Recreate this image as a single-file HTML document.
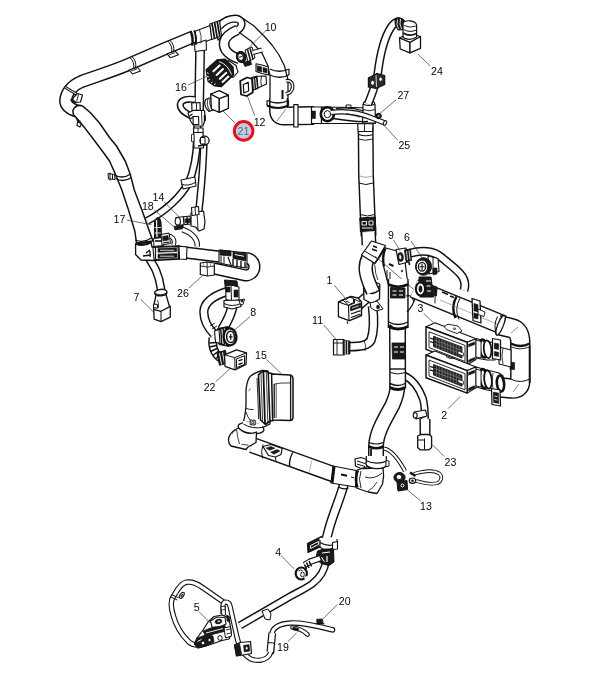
<!DOCTYPE html>
<html><head><meta charset="utf-8"><title>Harness</title>
<style>
html,body{margin:0;padding:0;background:#fff;}
body{width:610px;height:683px;overflow:hidden;font-family:"Liberation Sans",sans-serif;}
svg{display:block}
text{font-family:"Liberation Sans",sans-serif;font-size:10.3px;fill:#000;text-anchor:middle}
.ld{stroke:#333;stroke-width:0.7}
</style></head><body>
<svg width="610" height="683" viewBox="0 0 610 683">
<rect width="610" height="683" fill="#fff"/>
<path d="M194,36.5 L165,48.6 L127,65.1 C112,71.5 95,76.5 81.5,81.5 C72,85.5 66,93 65.7,101 C66,106 70,109 78,111.5" stroke="#111" stroke-width="13.25" fill="none" stroke-linecap="butt" stroke-linejoin="round"/>
<path d="M194,36.5 L165,48.6 L127,65.1 C112,71.5 95,76.5 81.5,81.5 C72,85.5 66,93 65.7,101 C66,106 70,109 78,111.5" stroke="#fff" stroke-width="10.35" fill="none" stroke-linecap="butt" stroke-linejoin="round"/>
<path d="M73.5,114.8 L78.7,120.5 L84.4,127.4 L94,140 L104.5,154 L109.5,161 L114,171 L121.5,189 L128,208.4 L134.8,231 L136.5,243 L153,241 L149.3,231 L143,212.9 L134.3,190 L130.3,174.4 L125.5,161.5 L116.5,146 L109.7,137.7 L99.3,122.8 L90.2,112.5 L82.7,106.1 Q76,103.5 72.8,110.5 Z" fill="#fff" stroke="#111" stroke-width="1.5" stroke-linejoin="round"/>
<path d="M130.0,57.5 q5,5 3.5,11.5" stroke="#111" stroke-width="1.0" fill="none" stroke-linecap="butt" stroke-linejoin="round"/>
<path d="M132.0,56.5 q5,5 3.5,11.5" stroke="#111" stroke-width="1.0" fill="none" stroke-linecap="butt" stroke-linejoin="round"/>
<path d="M129.0,70.0 137.5,67.5 140.5,71.0 132.5,74.0Z" fill="#fff" stroke="#111" stroke-width="1.1" stroke-linejoin="round"/>
<path d="M131.0,71.0 l6,-2" stroke="#111" stroke-width="0.8" fill="none" stroke-linecap="butt" stroke-linejoin="round"/>
<path d="M168.0,41.3 q5,5 3.5,11.5" stroke="#111" stroke-width="1.0" fill="none" stroke-linecap="butt" stroke-linejoin="round"/>
<path d="M170.0,40.3 q5,5 3.5,11.5" stroke="#111" stroke-width="1.0" fill="none" stroke-linecap="butt" stroke-linejoin="round"/>
<path d="M167.0,53.8 175.5,51.3 178.5,54.8 170.5,57.8Z" fill="#fff" stroke="#111" stroke-width="1.1" stroke-linejoin="round"/>
<path d="M169.0,54.8 l6,-2" stroke="#111" stroke-width="0.8" fill="none" stroke-linecap="butt" stroke-linejoin="round"/>
<path d="M65.5,87.5 L78,95" stroke="#111" stroke-width="3.0" fill="none" stroke-linecap="butt" stroke-linejoin="round"/>
<path d="M65.5,87.5 L78,95" stroke="#fff" stroke-width="1.0" fill="none" stroke-linecap="butt" stroke-linejoin="round"/>
<path d="M72.5,98.5 77.5,93.5 82.5,95 80.5,102 75,102.5Z" fill="#fff" stroke="#111" stroke-width="1.2" stroke-linejoin="round"/>
<path d="M78.5,94.5 l-2,7" stroke="#111" stroke-width="0.9" fill="none" stroke-linecap="butt" stroke-linejoin="round"/>
<path d="M70.5,99.5 l6,3.5" stroke="#111" stroke-width="2.0" fill="none" stroke-linecap="butt" stroke-linejoin="round"/>
<path d="M114.4,175 q8,4.5 16.5,-1" stroke="#111" stroke-width="1.3" fill="none" stroke-linecap="butt" stroke-linejoin="round"/>
<path d="M115.5,178.5 q8,4.5 16,-1" stroke="#111" stroke-width="1.3" fill="none" stroke-linecap="butt" stroke-linejoin="round"/>
<path d="M108,173.5 114.5,174.5 115,179.5 108.5,179Z" fill="#fff" stroke="#111" stroke-width="1.0" stroke-linejoin="round"/>
<path d="M110,172.5 v8 M112.5,174 v5" stroke="#111" stroke-width="1.0" fill="none" stroke-linecap="butt" stroke-linejoin="round"/>
<path d="M76,117.5 l2,4.5 l2.5,-1 M77.5,122 l-.5,3.5 l3,1.5 l1.5,-3.5 z" stroke="#111" stroke-width="1.1" fill="none" stroke-linecap="butt" stroke-linejoin="round"/>
<path d="M147,221 C165,211.5 181,197 189,182 C194,170 196.5,156 197,140 L198,112" stroke="#111" stroke-width="8.05" fill="none" stroke-linecap="butt" stroke-linejoin="round"/>
<path d="M147,221 C165,211.5 181,197 189,182 C194,170 196.5,156 197,140 L198,112" stroke="#fff" stroke-width="5.15" fill="none" stroke-linecap="butt" stroke-linejoin="round"/>
<path d="M204,138 C203.5,160 202,180 200,200 L198.5,214" stroke="#111" stroke-width="7.65" fill="none" stroke-linecap="butt" stroke-linejoin="round"/>
<path d="M204,138 C203.5,160 202,180 200,200 L198.5,214" stroke="#fff" stroke-width="4.75" fill="none" stroke-linecap="butt" stroke-linejoin="round"/>
<path d="M200.2,44 L199,112" stroke="#111" stroke-width="9.85" fill="none" stroke-linecap="butt" stroke-linejoin="round"/>
<path d="M200.2,44 L199,112" stroke="#fff" stroke-width="6.95" fill="none" stroke-linecap="butt" stroke-linejoin="round"/>
<path d="M195,99.6 C188,98.5 181,99.5 180.2,104.5 C179.8,110 186,113.5 192.5,116.5" stroke="#111" stroke-width="7.05" fill="none" stroke-linecap="butt" stroke-linejoin="round"/>
<path d="M195,99.6 C188,98.5 181,99.5 180.2,104.5 C179.8,110 186,113.5 192.5,116.5" stroke="#fff" stroke-width="4.15" fill="none" stroke-linecap="butt" stroke-linejoin="round"/>
<path d="M216,24.5 221,20 227,16.5 235,16 243,18.5 254,26 264,36 272,45 279,55 284.5,66 288,80 288,100 270,100 270,76 268,66 262,53 251,41 240,33 228,32 218,40Z" fill="#fff" stroke="#111" stroke-width="1.25" stroke-linejoin="round"/>
<path d="M219,26.5 C223,22 229,18.8 235,18.6 C240,18.8 242.6,22 241.2,26 C240,29 237.5,30.5 234.5,32" stroke="#111" stroke-width="8.05" fill="none" stroke-linecap="butt" stroke-linejoin="round"/>
<path d="M219,26.5 C223,22 229,18.8 235,18.6 C240,18.8 242.6,22 241.2,26 C240,29 237.5,30.5 234.5,32" stroke="#fff" stroke-width="5.15" fill="none" stroke-linecap="butt" stroke-linejoin="round"/>
<path d="M237.5,29.8 C231,32.5 225.5,36 224.2,42 C223.5,46 225,49.5 227.3,52 C230.5,55.5 235,57.5 239.5,59" stroke="#111" stroke-width="10.65" fill="none" stroke-linecap="butt" stroke-linejoin="round"/>
<path d="M237.5,29.8 C231,32.5 225.5,36 224.2,42 C223.5,46 225,49.5 227.3,52 C230.5,55.5 235,57.5 239.5,59" stroke="#fff" stroke-width="7.75" fill="none" stroke-linecap="butt" stroke-linejoin="round"/>
<path d="M195,31.2 210.4,25.5 212,39 196.5,45.6Z" fill="#fff" stroke="#111" stroke-width="1.2" stroke-linejoin="round"/>
<path d="M194.5,44 206,40 206.5,50 195,51.5Z" fill="#fff" stroke="#111" stroke-width="1.1" stroke-linejoin="round"/>
<path d="M190.6,31.6 q3,6 1.6,14" stroke="#111" stroke-width="2.4" fill="none" stroke-linecap="butt" stroke-linejoin="round"/>
<path d="M194,30.4 q3,6 1.6,14.4" stroke="#111" stroke-width="1.8" fill="none" stroke-linecap="butt" stroke-linejoin="round"/>
<path d="M199.5,30 q2.5,6 1.5,13.5" stroke="#111" stroke-width="0.8" fill="none" stroke-linecap="butt" stroke-linejoin="round"/>
<path d="M209.8,24 219.5,20.5 221.5,36 211.8,39.5Z" fill="#fff" stroke="#111" stroke-width="1.2" stroke-linejoin="round"/>
<path d="M212,23.5 l2.6,15 M214.6,22.5 l2.6,15 M217.2,21.5 l2.6,15" stroke="#111" stroke-width="1.7" fill="none" stroke-linecap="butt" stroke-linejoin="round"/>
<path d="M278.6,98 L278.6,111 Q278.6,116 284,116 L314,115.6" stroke="#111" stroke-width="19.05" fill="none" stroke-linecap="butt" stroke-linejoin="round"/>
<path d="M278.6,98 L278.6,111 Q278.6,116 284,116 L314,115.6" stroke="#fff" stroke-width="16.15" fill="none" stroke-linecap="butt" stroke-linejoin="round"/>
<path d="M286,81 C293,79 294.5,88 290,92.5 L286,94" stroke="#111" stroke-width="3.70" fill="none" stroke-linecap="butt" stroke-linejoin="round"/>
<path d="M286,81 C293,79 294.5,88 290,92.5 L286,94" stroke="#fff" stroke-width="1.50" fill="none" stroke-linecap="butt" stroke-linejoin="round"/>
<path d="M270,69 q9,4.5 19,0" stroke="#111" stroke-width="1.3" fill="none" stroke-linecap="butt" stroke-linejoin="round"/>
<path d="M270,75 q9,4.5 19,0" stroke="#111" stroke-width="1.3" fill="none" stroke-linecap="butt" stroke-linejoin="round"/>
<path d="M289,69 v6" stroke="#111" stroke-width="1.2" fill="none" stroke-linecap="butt" stroke-linejoin="round"/>
<path d="M267,100.5 q11,5 21.5,0" stroke="#111" stroke-width="1.3" fill="none" stroke-linecap="butt" stroke-linejoin="round"/>
<path d="M267,105.5 q11,5 21.5,0" stroke="#111" stroke-width="2.0" fill="none" stroke-linecap="butt" stroke-linejoin="round"/>
<path d="M267,100.5 v5 M288.5,100.5 v5" stroke="#111" stroke-width="1.2" fill="none" stroke-linecap="butt" stroke-linejoin="round"/>
<path d="M277,121 l9,-12" stroke="#555" stroke-width="0.7" fill="none" stroke-linecap="butt" stroke-linejoin="round"/>
<path d="M282.5,90 v9" stroke="#111" stroke-width="2.0" fill="none" stroke-linecap="butt" stroke-linejoin="round"/>
<path d="M293.8,104.7 298,104.7 298,127 293.8,127Z" fill="#fff" stroke="#111" stroke-width="1.2" stroke-linejoin="round"/>
<path d="M311.5,107 321.5,107 321.5,123.5 311.5,123.5Z" fill="#fff" stroke="#111" stroke-width="1.2" stroke-linejoin="round"/>
<path d="M312,111 315.5,111 315.5,118.5 312,118.5Z" fill="#1a1a1a" stroke="#111" stroke-width="0.5" stroke-linejoin="round"/>
<path d="M321.5,107 352,107.5 372,108 375,123.5 352,123.5 321.5,123.5Z" fill="#fff" stroke="#111" stroke-width="1.2" stroke-linejoin="round"/>
<path d="M363,104 L375,104 L375.5,123 L362.5,123 Z" fill="#fff" stroke="#111" stroke-width="1.2" stroke-linejoin="round"/>
<ellipse cx="369" cy="103.2" rx="5.6" ry="2.2" transform="rotate(0 369 103.2)" fill="#fff" stroke="#111" stroke-width="1.1"/>
<path d="M363,109.5 q6,2.5 12,0" stroke="#111" stroke-width="0.9" fill="none" stroke-linecap="butt" stroke-linejoin="round"/>
<ellipse cx="327.4" cy="114.2" rx="6.6" ry="7" transform="rotate(0 327.4 114.2)" fill="#fff" stroke="#111" stroke-width="2.6"/>
<ellipse cx="327.4" cy="114.2" rx="3.2" ry="3.6" transform="rotate(0 327.4 114.2)" fill="#fff" stroke="#111" stroke-width="1.0"/>
<path d="M331,112.5 C345,110.5 360,113 372,118 L385,123" stroke="#111" stroke-width="5.60" fill="none" stroke-linecap="butt" stroke-linejoin="round"/>
<path d="M331,112.5 C345,110.5 360,113 372,118 L385,123" stroke="#fff" stroke-width="3.20" fill="none" stroke-linecap="butt" stroke-linejoin="round"/>
<path d="M333,118.5 C345,120.5 358,122 368,121.5" stroke="#111" stroke-width="1.3" fill="none" stroke-linecap="butt" stroke-linejoin="round"/>
<path d="M336,108.5 C346,107 356,108.5 364,111" stroke="#111" stroke-width="1.1" fill="none" stroke-linecap="butt" stroke-linejoin="round"/>
<path d="M346,113.5 l14,3.5" stroke="#111" stroke-width="0.8" fill="none" stroke-linecap="butt" stroke-linejoin="round"/>
<ellipse cx="385" cy="123" rx="1.5" ry="2.3" transform="rotate(20 385 123)" fill="#fff" stroke="#111" stroke-width="1.0"/>
<ellipse cx="378.6" cy="116" rx="2.7" ry="2.7" transform="rotate(0 378.6 116)" fill="#1a1a1a" stroke="#111" stroke-width="1.0"/>
<ellipse cx="378.6" cy="116" rx="1" ry="1" transform="rotate(0 378.6 116)" fill="#fff" stroke="#111" stroke-width="0.4"/>
<path d="M346,107.5 v-2.5 h5 v2.5" stroke="#111" stroke-width="1.0" fill="none" stroke-linecap="butt" stroke-linejoin="round"/>
<path d="M365.6,124 L366,175 L367.6,215 L368.6,236" stroke="#111" stroke-width="15.95" fill="none" stroke-linecap="butt" stroke-linejoin="round"/>
<path d="M365.6,124 L366,175 L367.6,215 L368.6,236" stroke="#fff" stroke-width="13.05" fill="none" stroke-linecap="butt" stroke-linejoin="round"/>
<path d="M357.6,123.8 373,123.8 372.6,131.5 358.2,131.5Z" fill="#fff" stroke="#111" stroke-width="1.1" stroke-linejoin="round"/>
<path d="M364.5,124 v7.5" stroke="#111" stroke-width="0.9" fill="none" stroke-linecap="butt" stroke-linejoin="round"/>
<path d="M358.5,134.5 q7,2.5 14.4,0" stroke="#111" stroke-width="1.1" fill="none" stroke-linecap="butt" stroke-linejoin="round"/>
<path d="M358.5,139 q7,2.5 14.4,0" stroke="#111" stroke-width="0.9" fill="none" stroke-linecap="butt" stroke-linejoin="round"/>
<path d="M358.8,175.5 q7,3.5 14.4,0" stroke="#777" stroke-width="0.7" fill="none" stroke-linecap="butt" stroke-linejoin="round"/>
<path d="M358.8,183 q7,3 14.4,0" stroke="#111" stroke-width="1.0" fill="none" stroke-linecap="butt" stroke-linejoin="round"/>
<path d="M360.2,214.5 q7,3 14.6,0" stroke="#111" stroke-width="1.0" fill="none" stroke-linecap="butt" stroke-linejoin="round"/>
<path d="M359.8,218 375.2,217 375.8,230.5 360.4,231.5Z" fill="#1a1a1a" stroke="#111" stroke-width="1.0" stroke-linejoin="round"/>
<path d="M362,221.5 h4.5 v3.5 h-4.5 z M369,221 h4 v4 h-4 z" stroke="#fff" stroke-width="0.9" fill="none" stroke-linecap="butt" stroke-linejoin="round"/>
<path d="M362,228 h11" stroke="#fff" stroke-width="0.9" fill="none" stroke-linecap="butt" stroke-linejoin="round"/>
<path d="M368,104 C372,94 376.5,84 378,72 C380.5,52 385,36 391.5,26.5 C394,23 396.5,21.5 399,21.5" stroke="#111" stroke-width="8.65" fill="none" stroke-linecap="butt" stroke-linejoin="round"/>
<path d="M368,104 C372,94 376.5,84 378,72 C380.5,52 385,36 391.5,26.5 C394,23 396.5,21.5 399,21.5" stroke="#fff" stroke-width="5.75" fill="none" stroke-linecap="butt" stroke-linejoin="round"/>
<path d="M368.4,78 377,73.5 384.7,75.5 384.7,84.5 376,88.5 368.4,87Z" fill="#2a2a2a" stroke="#111" stroke-width="1.2" stroke-linejoin="round"/>
<ellipse cx="372.6" cy="82.8" rx="2.0" ry="2.5" transform="rotate(0 372.6 82.8)" fill="#fff" stroke="#111" stroke-width="0.9"/>
<ellipse cx="380.6" cy="79.2" rx="1.8" ry="2.2" transform="rotate(0 380.6 79.2)" fill="#fff" stroke="#111" stroke-width="0.9"/>
<path d="M376,75 l.5,12" stroke="#fff" stroke-width="0.8" fill="none" stroke-linecap="butt" stroke-linejoin="round"/>
<path d="M395,19 Q398,16.5 402,18.5 L405,21 L404,29.5 L398,30 Q394,25 395,19 Z" fill="#1a1a1a" stroke="#111" stroke-width="1" stroke-linejoin="round"/>
<path d="M397.5,19.5 q-1.5,5 1,9.5 M400.5,19 q-1.5,5 1,10" stroke="#fff" stroke-width="0.8" fill="none" stroke-linecap="butt" stroke-linejoin="round"/>
<path d="M403,23.5 Q404,20.5 410,20.8 Q416,21.5 416.6,25 L416.6,37 Q410,41.5 403,37.5 Z" fill="#fff" stroke="#111" stroke-width="1.2" stroke-linejoin="round"/>
<path d="M404,25.5 q6,3 12,.5" stroke="#111" stroke-width="0.9" fill="none" stroke-linecap="butt" stroke-linejoin="round"/>
<path d="M403.5,29.5 q6,3.5 13,.5" stroke="#111" stroke-width="1.0" fill="none" stroke-linecap="butt" stroke-linejoin="round"/>
<path d="M403.3,33 q6,4 13.3,.5" stroke="#111" stroke-width="1.6" fill="none" stroke-linecap="butt" stroke-linejoin="round"/>
<path d="M399.5,37.8 410,42.4 410,52.9 400.2,49Z" fill="#fff" stroke="#111" stroke-width="1.3" stroke-linejoin="round"/>
<path d="M410,42.4 420.5,36.5 420.5,48.3 410,52.9Z" fill="#fff" stroke="#111" stroke-width="1.3" stroke-linejoin="round"/>
<path d="M399.5,37.8 l4,-1.6 M420.5,36.5 l-4,-1.2" stroke="#111" stroke-width="1.2" fill="none" stroke-linecap="butt" stroke-linejoin="round"/>
<path d="M228,60 236,65.5 238,72 233,77.5 227,75Z" fill="#fff" stroke="#111" stroke-width="1.1" stroke-linejoin="round"/>
<path d="M206.1,69.7 L217.3,59.8 L225.2,59.2 L233,67 L233.7,74.9 L221.2,86.7 L214.7,86 L208.1,81.5 Z" fill="#1a1a1a" stroke="#111" stroke-width="1.2" stroke-linejoin="round"/>
<path d="M213.4,71.2 L219.6,65.4" stroke="#fff" stroke-width="2.0" fill="none" stroke-linecap="round" stroke-linejoin="round"/>
<path d="M216.6,75 L223,69" stroke="#fff" stroke-width="2.0" fill="none" stroke-linecap="round" stroke-linejoin="round"/>
<path d="M219.8,78.8 L226.3,72.8" stroke="#fff" stroke-width="2.0" fill="none" stroke-linecap="round" stroke-linejoin="round"/>
<path d="M222.6,82 L228.4,76.6" stroke="#fff" stroke-width="2.0" fill="none" stroke-linecap="round" stroke-linejoin="round"/>
<path d="M219,61.5 q9,3 12.5,13" stroke="#fff" stroke-width="0.9" fill="none" stroke-linecap="butt" stroke-linejoin="round"/>
<path d="M207,72.5 l1.6,1 M207,76.5 l1.8,.4 M208.3,80 l1.8,-.4 M211,83 l1.4,-1.2 M214.5,85 l.8,-1.6" stroke="#fff" stroke-width="1.0" fill="none" stroke-linecap="butt" stroke-linejoin="round"/>
<path d="M245,50 252,47 255,58 248,62Z" fill="#fff" stroke="#111" stroke-width="1.0" stroke-linejoin="round"/>
<path d="M247.5,49.5 l3,11 M250,48.5 l3,10.5" stroke="#111" stroke-width="1.5" fill="none" stroke-linecap="butt" stroke-linejoin="round"/>
<path d="M253,52.5 L262,50" stroke="#111" stroke-width="5.00" fill="none" stroke-linecap="butt" stroke-linejoin="round"/>
<path d="M253,52.5 L262,50" stroke="#fff" stroke-width="3.00" fill="none" stroke-linecap="butt" stroke-linejoin="round"/>
<ellipse cx="241.2" cy="57" rx="4.8" ry="5.6" transform="rotate(-15 241.2 57)" fill="#1a1a1a" stroke="#111" stroke-width="1.0"/>
<ellipse cx="240.6" cy="57" rx="2.7" ry="3.4" transform="rotate(-15 240.6 57)" fill="#fff" stroke="#111" stroke-width="0.8"/>
<path d="M238.8,57.3 l3.6,-.8" stroke="#111" stroke-width="1.0" fill="none" stroke-linecap="butt" stroke-linejoin="round"/>
<path d="M243,62.5 250.5,60.5 251.5,64.5 245,66.5Z" fill="#1a1a1a" stroke="#111" stroke-width="0.8" stroke-linejoin="round"/>
<path d="M240.2,81 L247,77.5 L252.7,79 L252.7,92.5 L246.5,96 L241,94.5 Z" fill="#fff" stroke="#111" stroke-width="1.8" stroke-linejoin="round"/>
<path d="M243.3,84.5 248.3,82.3 248.6,91 243.8,93Z" fill="#fff" stroke="#111" stroke-width="1.2" stroke-linejoin="round"/>
<path d="M251.4,77.5 257,76 258,88.5 252.7,90.5Z" fill="#1a1a1a" stroke="#111" stroke-width="0.9" stroke-linejoin="round"/>
<path d="M253.4,78.5 l1,10.5 M255.6,78 l1,10" stroke="#fff" stroke-width="0.8" fill="none" stroke-linecap="butt" stroke-linejoin="round"/>
<path d="M257,76.2 266,76 266.5,84 258,88Z" fill="#fff" stroke="#111" stroke-width="1.1" stroke-linejoin="round"/>
<path d="M261.5,76.3 q-1.5,5 0,10" stroke="#111" stroke-width="0.9" fill="none" stroke-linecap="butt" stroke-linejoin="round"/>
<path d="M256,63.8 262,65 268.4,67 268.4,75 262,73.5 256,71.5Z" fill="#fff" stroke="#111" stroke-width="1.1" stroke-linejoin="round"/>
<path d="M257.2,65.8 261.5,66.8 261.5,72 257.2,71Z" fill="#1a1a1a" stroke="#111" stroke-width="0.6" stroke-linejoin="round"/>
<path d="M263,67.5 267,68.5 267,73 263,72Z" fill="#1a1a1a" stroke="#111" stroke-width="0.6" stroke-linejoin="round"/>
<path d="M205.5,99.5 L212,97 L216,109 L209,111.5 Q203,106 205.5,99.5 Z" fill="#fff" stroke="#111" stroke-width="1.2" stroke-linejoin="round"/>
<path d="M208.2,98.5 q-2.5,6 1.8,12.5 M210.6,97.6 q-2.5,6 2,12.5" stroke="#111" stroke-width="0.9" fill="none" stroke-linecap="butt" stroke-linejoin="round"/>
<path d="M210.7,94 219.3,98.5 219.3,112.3 211.4,109Z" fill="#fff" stroke="#111" stroke-width="1.3" stroke-linejoin="round"/>
<path d="M219.3,98.5 228.4,95.2 228.4,108.4 219.3,112.3Z" fill="#fff" stroke="#111" stroke-width="1.3" stroke-linejoin="round"/>
<path d="M210.7,94 219.3,90.7 228.4,95.2 219.3,98.5Z" fill="#fff" stroke="#111" stroke-width="1.3" stroke-linejoin="round"/>
<path d="M191.7,103 200,102.5 200.3,110 192,110.5Z" fill="#fff" stroke="#111" stroke-width="1.2" stroke-linejoin="round"/>
<path d="M196.5,102.8 v7.5" stroke="#111" stroke-width="0.9" fill="none" stroke-linecap="butt" stroke-linejoin="round"/>
<path d="M188,113 L193,110.5 L204.5,110.5 L205.2,119 L203,126 L194,126 L190.5,121 Z" fill="#fff" stroke="#111" stroke-width="1.2" stroke-linejoin="round"/>
<path d="M189.5,116 l3,-2 M190.5,119 l3,-2.5" stroke="#111" stroke-width="1.4" fill="none" stroke-linecap="butt" stroke-linejoin="round"/>
<path d="M193,116.5 198.6,116.5 198.8,124.5 193.2,124.5Z" fill="#fff" stroke="#111" stroke-width="1.1" stroke-linejoin="round"/>
<path d="M201.5,111 l.5,14" stroke="#111" stroke-width="0.9" fill="none" stroke-linecap="butt" stroke-linejoin="round"/>
<path d="M204.8,115 v6" stroke="#111" stroke-width="2.0" fill="none" stroke-linecap="butt" stroke-linejoin="round"/>
<path d="M193.5,128 203,128 203.5,148 194,148Z" fill="#fff" stroke="#111" stroke-width="1.2" stroke-linejoin="round"/>
<path d="M193.5,132.5 h9.5" stroke="#111" stroke-width="1.0" fill="none" stroke-linecap="butt" stroke-linejoin="round"/>
<path d="M198,128 v4.5" stroke="#111" stroke-width="0.9" fill="none" stroke-linecap="butt" stroke-linejoin="round"/>
<path d="M191.5,134.5 194,134 194,142 191.5,141.5Z" fill="#fff" stroke="#111" stroke-width="0.9" stroke-linejoin="round"/>
<ellipse cx="204.5" cy="140.5" rx="4.6" ry="4.4" transform="rotate(0 204.5 140.5)" fill="#fff" stroke="#111" stroke-width="1.3"/>
<path d="M200.5,137.5 205,137.5 205,144 200.5,144Z" fill="#fff" stroke="#111" stroke-width="1.0" stroke-linejoin="round"/>
<path d="M198,146 l9,-1.5" stroke="#111" stroke-width="1.3" fill="none" stroke-linecap="butt" stroke-linejoin="round"/>
<path d="M148,256 C151,262 154,266 155.8,270 C158,275 160,281 161,289 L161,294" stroke="#111" stroke-width="8.75" fill="none" stroke-linecap="butt" stroke-linejoin="round"/>
<path d="M148,256 C151,262 154,266 155.8,270 C158,275 160,281 161,289 L161,294" stroke="#fff" stroke-width="5.85" fill="none" stroke-linecap="butt" stroke-linejoin="round"/>
<path d="M176,251.3 L219.2,256.7 L235.6,257.6 L245.7,258 A8.7,8.7 0 0 1 245.7,275.4 L214,268.5" stroke="#111" stroke-width="12.25" fill="none" stroke-linecap="butt" stroke-linejoin="round"/>
<path d="M176,251.3 L219.2,256.7 L235.6,257.6 L245.7,258 A8.7,8.7 0 0 1 245.7,275.4 L214,268.5" stroke="#fff" stroke-width="9.35" fill="none" stroke-linecap="butt" stroke-linejoin="round"/>
<path d="M135.6,244 L151,242 L152,247 L179,246 L179.5,259 L153,260.5 L141,260 L135.6,254.5 Z" fill="#fff" stroke="#111" stroke-width="1.3" stroke-linejoin="round"/>
<path d="M135.3,240 q8,3.5 16,-2" stroke="#111" stroke-width="1.2" fill="none" stroke-linecap="butt" stroke-linejoin="round"/>
<path d="M135.6,243.5 q8,3.5 15.6,-1.5" stroke="#111" stroke-width="2.2" fill="none" stroke-linecap="butt" stroke-linejoin="round"/>
<path d="M153,247.5 178,246.5 178.5,258.5 154,259.5Z" fill="#fff" stroke="#111" stroke-width="1.1" stroke-linejoin="round"/>
<path d="M158,248.5 176.5,247.8 176.8,251.5 158,252.3Z" fill="#1a1a1a" stroke="#111" stroke-width="0.6" stroke-linejoin="round"/>
<path d="M158,254.2 177,253.4 177.2,257.3 158,258.2Z" fill="#1a1a1a" stroke="#111" stroke-width="0.6" stroke-linejoin="round"/>
<path d="M160,250.3 h14 M160,256.2 h14" stroke="#fff" stroke-width="0.8" fill="none" stroke-linecap="butt" stroke-linejoin="round"/>
<path d="M155.5,248 v11.5" stroke="#111" stroke-width="1.2" fill="none" stroke-linecap="butt" stroke-linejoin="round"/>
<path d="M143,256 l8,-1 M146,253 l4,-3 M150,251 v6" stroke="#111" stroke-width="1.3" fill="none" stroke-linecap="butt" stroke-linejoin="round"/>
<path d="M179,246.3 187,247 186.5,259.5 179.5,259Z" fill="#fff" stroke="#111" stroke-width="1.1" stroke-linejoin="round"/>
<path d="M219,250 234,251.5 247,254 247,268 234,266 219,263Z" fill="#fff" stroke="#111" stroke-width="1.1" stroke-linejoin="round"/>
<path d="M220,250 231,251 231,256 220,255Z" fill="#1a1a1a" stroke="#111" stroke-width="0.8" stroke-linejoin="round"/>
<path d="M221,256 v7 M224,256.5 v7" stroke="#111" stroke-width="1.0" fill="none" stroke-linecap="butt" stroke-linejoin="round"/>
<path d="M233,252 246,254.5 246,261 233,258.5Z" fill="#1a1a1a" stroke="#111" stroke-width="0.8" stroke-linejoin="round"/>
<path d="M235,254.5 l9,1.8" stroke="#fff" stroke-width="1.0" fill="none" stroke-linecap="butt" stroke-linejoin="round"/>
<path d="M233,259 l0,7 M237,260 v7 M241,261 v7 M245,262 v6" stroke="#111" stroke-width="1.4" fill="none" stroke-linecap="butt" stroke-linejoin="round"/>
<path d="M228,257 l3,8" stroke="#111" stroke-width="1.2" fill="none" stroke-linecap="butt" stroke-linejoin="round"/>
<path d="M200.3,263 207,262 214.3,263 214.3,275 207.5,276 200.3,274.5Z" fill="#fff" stroke="#111" stroke-width="1.2" stroke-linejoin="round"/>
<path d="M207,262 l.5,14 M200.3,266 l7,1 l7,-1" stroke="#111" stroke-width="0.9" fill="none" stroke-linecap="butt" stroke-linejoin="round"/>
<path d="M203.5,263 v3.5 M210.5,263 v3.5" stroke="#888" stroke-width="0.8" fill="none" stroke-linecap="butt" stroke-linejoin="round"/>
<path d="M154.5,221 Q156.5,216.5 159.5,217.5 L161,222 L161.5,238.5 L154.5,239.5 Z" fill="#1a1a1a" stroke="#111" stroke-width="1" stroke-linejoin="round"/>
<path d="M156.5,220 l.5,17" stroke="#fff" stroke-width="1.2" fill="none" stroke-linecap="butt" stroke-linejoin="round"/>
<path d="M154.5,227.5 h6.5 M154.5,233 h6.5" stroke="#fff" stroke-width="0.8" fill="none" stroke-linecap="butt" stroke-linejoin="round"/>
<path d="M153.5,238.5 163,237.5 163.5,245.5 154,246.5Z" fill="#fff" stroke="#111" stroke-width="1.0" stroke-linejoin="round"/>
<path d="M155,241 h7" stroke="#111" stroke-width="1.6" fill="none" stroke-linecap="butt" stroke-linejoin="round"/>
<path d="M166,236 C172,235 175.5,239 173.5,245" stroke="#111" stroke-width="4.60" fill="none" stroke-linecap="butt" stroke-linejoin="round"/>
<path d="M166,236 C172,235 175.5,239 173.5,245" stroke="#fff" stroke-width="2.60" fill="none" stroke-linecap="butt" stroke-linejoin="round"/>
<path d="M161,234.5 169,233 170.5,243.5 162,245Z" fill="#fff" stroke="#111" stroke-width="1.0" stroke-linejoin="round"/>
<path d="M162.5,236.5 168,235.5 168.6,240 163,241Z" fill="#1a1a1a" stroke="#111" stroke-width="0.6" stroke-linejoin="round"/>
<path d="M163,243 l6,-.8" stroke="#111" stroke-width="1.2" fill="none" stroke-linecap="butt" stroke-linejoin="round"/>
<path d="M176,217.5 190,216 190.8,224 177,225.5Z" fill="#fff" stroke="#111" stroke-width="1.1" stroke-linejoin="round"/>
<ellipse cx="177.8" cy="221.3" rx="2.6" ry="3.8" transform="rotate(0 177.8 221.3)" fill="#fff" stroke="#111" stroke-width="1.1"/>
<path d="M183.5,216.8 l.6,8 M187,216.4 l.6,8" stroke="#111" stroke-width="1.4" fill="none" stroke-linecap="butt" stroke-linejoin="round"/>
<path d="M174,226.5 183,225 183.5,228.5 175,230Z" fill="#1a1a1a" stroke="#111" stroke-width="0.8" stroke-linejoin="round"/>
<path d="M185,219 189.5,218.5 190,222.5 185.5,223Z" fill="#1a1a1a" stroke="#111" stroke-width="0.5" stroke-linejoin="round"/>
<path d="M191,213 L203.5,211 L205,222 L204,229 L199,231 L195.5,227 L191,226 Z" fill="#fff" stroke="#111" stroke-width="1.2" stroke-linejoin="round"/>
<path d="M197,213 l1,16" stroke="#111" stroke-width="0.9" fill="none" stroke-linecap="butt" stroke-linejoin="round"/>
<path d="M191.5,207.5 198.5,206.5 199,214.5 192,215.5Z" fill="#fff" stroke="#111" stroke-width="1.1" stroke-linejoin="round"/>
<path d="M195,207 l.5,8" stroke="#111" stroke-width="0.9" fill="none" stroke-linecap="butt" stroke-linejoin="round"/>
<path d="M182.5,229.5 C190,232 198,238 197.3,246.5" stroke="#111" stroke-width="5.60" fill="none" stroke-linecap="butt" stroke-linejoin="round"/>
<path d="M182.5,229.5 C190,232 198,238 197.3,246.5" stroke="#fff" stroke-width="3.60" fill="none" stroke-linecap="butt" stroke-linejoin="round"/>
<path d="M181,180 195,177 196,186 183,189Z" fill="#fff" stroke="#111" stroke-width="1.1" stroke-linejoin="round"/>
<path d="M181,184 q7,3 15,-2" stroke="#111" stroke-width="1.0" fill="none" stroke-linecap="butt" stroke-linejoin="round"/>
<path d="M156,295 L166,294.5 L169.3,306 L170.3,306.4 L170.3,317.2 L161,321.6 L154.1,319.2 L153.6,306.5 Z" fill="#fff" stroke="#111" stroke-width="1.3" stroke-linejoin="round"/>
<ellipse cx="160.8" cy="292.6" rx="6.2" ry="3.2" transform="rotate(-5 160.8 292.6)" fill="#fff" stroke="#111" stroke-width="1.5"/>
<path d="M155.5,293.5 q5,3 11,-.5" stroke="#111" stroke-width="1.0" fill="none" stroke-linecap="butt" stroke-linejoin="round"/>
<path d="M153.6,309.3 L161,311.3 L170.3,306.4" stroke="#111" stroke-width="1.2" fill="none" stroke-linecap="butt" stroke-linejoin="round"/>
<path d="M161,311.3 V321.6" stroke="#111" stroke-width="1.0" fill="none" stroke-linecap="butt" stroke-linejoin="round"/>
<path d="M153.6,304 157.5,304.5 157.5,308.2 153.6,307.7Z" fill="#fff" stroke="#111" stroke-width="1.0" stroke-linejoin="round"/>
<path d="M157.5,300 q1.5,4 1,8" stroke="#111" stroke-width="0.8" fill="none" stroke-linecap="butt" stroke-linejoin="round"/>
<path d="M227,291.5 C213,296 204,303 203.8,312 C204,322 208,328 214,334" stroke="#111" stroke-width="9.25" fill="none" stroke-linecap="butt" stroke-linejoin="round"/>
<path d="M227,291.5 C213,296 204,303 203.8,312 C204,322 208,328 214,334" stroke="#fff" stroke-width="6.35" fill="none" stroke-linecap="butt" stroke-linejoin="round"/>
<path d="M232.5,306 C231,314 227,322 222,330" stroke="#111" stroke-width="10.45" fill="none" stroke-linecap="butt" stroke-linejoin="round"/>
<path d="M232.5,306 C231,314 227,322 222,330" stroke="#fff" stroke-width="7.55" fill="none" stroke-linecap="butt" stroke-linejoin="round"/>
<path d="M210,326 l5,-3 M212,329 l5,-3" stroke="#111" stroke-width="0.9" fill="none" stroke-linecap="butt" stroke-linejoin="round"/>
<path d="M224.5,280 237,281 238,290 225.5,290Z" fill="#1a1a1a" stroke="#111" stroke-width="1.0" stroke-linejoin="round"/>
<path d="M225.7,286 231,285 238.9,287 239,300 232,301 226,299.5Z" fill="#fff" stroke="#111" stroke-width="1.1" stroke-linejoin="round"/>
<path d="M231,285 l.5,16" stroke="#111" stroke-width="1.0" fill="none" stroke-linecap="butt" stroke-linejoin="round"/>
<path d="M234,290 238,290 238,297 234,297Z" fill="#1a1a1a" stroke="#111" stroke-width="0.6" stroke-linejoin="round"/>
<path d="M226,287 230,287 230,292 226,292Z" fill="#1a1a1a" stroke="#111" stroke-width="0.6" stroke-linejoin="round"/>
<path d="M224,300.5 240.5,300 241,306.5 232,309 224,307Z" fill="#fff" stroke="#111" stroke-width="1.2" stroke-linejoin="round"/>
<path d="M224,303.5 q8,4 17,0" stroke="#111" stroke-width="1.0" fill="none" stroke-linecap="butt" stroke-linejoin="round"/>
<path d="M239,300.5 244.5,299 243,304.5 240.5,305Z" fill="#fff" stroke="#111" stroke-width="1.0" stroke-linejoin="round"/>
<ellipse cx="242" cy="301" rx="1" ry="1.2" transform="rotate(0 242 301)" fill="#1a1a1a" stroke="#111" stroke-width="0.4"/>
<path d="M213,338 C211.5,348 215.5,356.5 225,360.5" stroke="#111" stroke-width="9.05" fill="none" stroke-linecap="butt" stroke-linejoin="round"/>
<path d="M213,338 C211.5,348 215.5,356.5 225,360.5" stroke="#fff" stroke-width="6.15" fill="none" stroke-linecap="butt" stroke-linejoin="round"/>
<path d="M209.5,343 l7,-.5 M209.5,347 l7,-1.5 M210.5,351.5 l6.5,-3 M213,355.5 l5.5,-4.5 M216.5,358.5 l4,-5.5 M220.5,360.5 l3,-6" stroke="#111" stroke-width="1.5" fill="none" stroke-linecap="butt" stroke-linejoin="round"/>
<path d="M217.5,328.5 L228,326.5 L229,346.5 L219,344.5 Q214,337 217.5,328.5 Z" fill="#1a1a1a" stroke="#111" stroke-width="1" stroke-linejoin="round"/>
<path d="M219.5,330 l1,13 M222,329 l1,15 M224.5,328.5 l1,16.5" stroke="#fff" stroke-width="1.0" fill="none" stroke-linecap="butt" stroke-linejoin="round"/>
<path d="M214.5,331 219,329.5 220,343.5 215.5,342Z" fill="#fff" stroke="#111" stroke-width="1.1" stroke-linejoin="round"/>
<ellipse cx="230" cy="336.8" rx="6.4" ry="8.6" transform="rotate(-5 230 336.8)" fill="#fff" stroke="#111" stroke-width="2.4"/>
<ellipse cx="230.6" cy="336.9" rx="3.9" ry="5.6" transform="rotate(-5 230.6 336.9)" fill="#fff" stroke="#111" stroke-width="1.6"/>
<path d="M229,336.9 h3.6 M230.7,334 v6" stroke="#111" stroke-width="1.2" fill="none" stroke-linecap="butt" stroke-linejoin="round"/>
<g transform="translate(-1.5,0.3)">
<path d="M218.5,352.5 227,350 229,362.5 221,365Z" fill="#1a1a1a" stroke="#111" stroke-width="1.0" stroke-linejoin="round"/>
<path d="M221,353 l2,11 M224,352 l2,11" stroke="#fff" stroke-width="0.9" fill="none" stroke-linecap="butt" stroke-linejoin="round"/>
<path d="M226,354.5 238,349.5 248,352.5 247.5,364 236.5,369.5 226.5,366Z" fill="#fff" stroke="#111" stroke-width="1.3" stroke-linejoin="round"/>
<path d="M236.3,357.3 l.2,12 M226,354.5 l10.3,2.8 l11.7,-4.8" stroke="#111" stroke-width="1.0" fill="none" stroke-linecap="butt" stroke-linejoin="round"/>
<path d="M238,358.6 246,355.4 246,364 238,367.4Z" fill="#fff" stroke="#111" stroke-width="1.0" stroke-linejoin="round"/>
<path d="M240,360.6 l4,-1.6 M240,364.2 l4,-1.6" stroke="#111" stroke-width="1.4" fill="none" stroke-linecap="butt" stroke-linejoin="round"/>
</g>
<path d="M252,445 L336,475.2" stroke="#111" stroke-width="16.45" fill="none" stroke-linecap="butt" stroke-linejoin="round"/>
<path d="M252,445 L336,475.2" stroke="#fff" stroke-width="13.55" fill="none" stroke-linecap="butt" stroke-linejoin="round"/>
<path d="M250.5,376 Q256,372 262.5,370.5 L268,371 L270,424 L262,428 L243,424 Q246,412 246,404 L246,390 Q247,380 250.5,376 Z" fill="#fff" stroke="#111" stroke-width="1.3" stroke-linejoin="round"/>
<path d="M250.5,389 l-1.8,1.6" stroke="#111" stroke-width="0.9" fill="none" stroke-linecap="butt" stroke-linejoin="round"/>
<path d="M245.5,408 q4,2 8,1.5" stroke="#111" stroke-width="0.9" fill="none" stroke-linecap="butt" stroke-linejoin="round"/>
<path d="M257,378 q1,20 1.6,41" stroke="#111" stroke-width="0.9" fill="none" stroke-linecap="butt" stroke-linejoin="round"/>
<path d="M258.5,375 Q263,369 268.5,372.5 L270,421 L265.5,424.5 L260.5,420 Z" fill="#fff" stroke="#111" stroke-width="1.6" stroke-linejoin="round"/>
<path d="M263.4,371.5 L265,424" stroke="#111" stroke-width="1.8" fill="none" stroke-linecap="butt" stroke-linejoin="round"/>
<path d="M261,373.5 L262.6,421" stroke="#111" stroke-width="0.8" fill="none" stroke-linecap="butt" stroke-linejoin="round"/>
<path d="M266.3,372 L267.8,422" stroke="#111" stroke-width="0.8" fill="none" stroke-linecap="butt" stroke-linejoin="round"/>
<path d="M268.3,373 272,373.5 273.5,420.5 270,421Z" fill="#fff" stroke="#111" stroke-width="1.4" stroke-linejoin="round"/>
<path d="M271.6,374 L290,375 Q293,375.5 293,379 L293,417 Q293,420.5 290,420.6 L272.6,420 Z" fill="#fff" stroke="#111" stroke-width="1.5" stroke-linejoin="round"/>
<path d="M290.6,376 V420" stroke="#111" stroke-width="1.3" fill="none" stroke-linecap="butt" stroke-linejoin="round"/>
<path d="M274.2,384 V418" stroke="#111" stroke-width="1.3" fill="none" stroke-linecap="butt" stroke-linejoin="round"/>
<path d="M276.2,384 V418" stroke="#111" stroke-width="0.7" fill="none" stroke-linecap="butt" stroke-linejoin="round"/>
<path d="M274.2,384 Q282,382.5 290,383" stroke="#111" stroke-width="0.8" fill="none" stroke-linecap="butt" stroke-linejoin="round"/>
<ellipse cx="251" cy="428" rx="13" ry="5.5" transform="rotate(8 251 428)" fill="#fff" stroke="#111" stroke-width="1.3"/>
<path d="M243,421 262,424 262,430 250,431 243,427Z" fill="#fff" stroke="#fff" stroke-width="0.1" stroke-linejoin="round"/>
<path d="M243.5,424 q8,5 19,3.5" stroke="#111" stroke-width="1.0" fill="none" stroke-linecap="butt" stroke-linejoin="round"/>
<path d="M250.2,420 255.2,420.3 255.2,425 250.2,424.7Z" fill="#fff" stroke="#111" stroke-width="1.0" stroke-linejoin="round"/>
<path d="M251.8,421.6 253.8,421.7 253.8,423.6 251.8,423.5Z" fill="#fff" stroke="#111" stroke-width="0.7" stroke-linejoin="round"/>
<path d="M246,412 q2,6 4,8" stroke="#111" stroke-width="0.9" fill="none" stroke-linecap="butt" stroke-linejoin="round"/>
<path d="M238.5,428 Q231,431 229,437 Q227.5,443 231,446 L246,449.5 L248,447 L256,442.5 L256.5,432 Q247,436 238.5,428 Z" fill="#fff" stroke="#111" stroke-width="1.3" stroke-linejoin="round"/>
<path d="M236.5,429.5 q1,8 3,14.5" stroke="#111" stroke-width="0.8" fill="none" stroke-linecap="butt" stroke-linejoin="round"/>
<path d="M241.5,444.5 l7,.5" stroke="#111" stroke-width="0.8" fill="none" stroke-linecap="butt" stroke-linejoin="round"/>
<path d="M236,430 q-3,1 -4,4" stroke="#111" stroke-width="0.8" fill="none" stroke-linecap="butt" stroke-linejoin="round"/>
<path d="M263,444.5 q-2.5,7 -.5,14" stroke="#111" stroke-width="1.0" fill="none" stroke-linecap="butt" stroke-linejoin="round"/>
<path d="M263,446.5 L271,444.5 L282.2,448.5 L281,454.5 L275.5,457 L268.5,455.5 Z" fill="#fff" stroke="#111" stroke-width="1.2" stroke-linejoin="round"/>
<path d="M266,448 271,446.5 275,448.2 269.5,450.3Z" fill="#1a1a1a" stroke="#111" stroke-width="0.5" stroke-linejoin="round"/>
<path d="M270.5,452.2 277,449.6 280,451 274,454.2Z" fill="#1a1a1a" stroke="#111" stroke-width="0.5" stroke-linejoin="round"/>
<path d="M275.5,457 l.5,5" stroke="#111" stroke-width="1.0" fill="none" stroke-linecap="butt" stroke-linejoin="round"/>
<path d="M292.8,452.5 q-3.8,6 -3.2,14" stroke="#111" stroke-width="1.4" fill="none" stroke-linecap="butt" stroke-linejoin="round"/>
<path d="M312,460 l-3,13" stroke="#888" stroke-width="0.6" fill="none" stroke-linecap="butt" stroke-linejoin="round"/>
<path d="M344,484 C340,499 333,514 329,529 L324,548" stroke="#111" stroke-width="9.95" fill="none" stroke-linecap="butt" stroke-linejoin="round"/>
<path d="M344,484 C340,499 333,514 329,529 L324,548" stroke="#fff" stroke-width="7.05" fill="none" stroke-linecap="butt" stroke-linejoin="round"/>
<path d="M338.5,487 q5,3 10,1" stroke="#111" stroke-width="1.2" fill="none" stroke-linecap="butt" stroke-linejoin="round"/>
<path d="M376,468 L376,446 C376.5,432 385,419 392.5,405 C396,397 397.5,391 397.5,385" stroke="#111" stroke-width="15.95" fill="none" stroke-linecap="butt" stroke-linejoin="round"/>
<path d="M376,468 L376,446 C376.5,432 385,419 392.5,405 C396,397 397.5,391 397.5,385" stroke="#fff" stroke-width="13.05" fill="none" stroke-linecap="butt" stroke-linejoin="round"/>
<path d="M333,466 356,470.5 355.5,487 331,483Z" fill="#fff" stroke="#111" stroke-width="1.2" stroke-linejoin="round"/>
<path d="M334.2,466.5 l-2,16.5" stroke="#111" stroke-width="2.6" fill="none" stroke-linecap="butt" stroke-linejoin="round"/>
<path d="M341,474.5 l6,1.3" stroke="#111" stroke-width="2.0" fill="none" stroke-linecap="butt" stroke-linejoin="round"/>
<path d="M351,477 l3,.8" stroke="#111" stroke-width="1.0" fill="none" stroke-linecap="butt" stroke-linejoin="round"/>
<path d="M357,470 L362,468.5 L383,468 Q384.5,476 382.5,484 L377,493.5 L368,492 L356.5,488 Z" fill="#fff" stroke="#111" stroke-width="1.3" stroke-linejoin="round"/>
<path d="M358,470.5 q-4,8 -.5,17" stroke="#111" stroke-width="2.4" fill="none" stroke-linecap="butt" stroke-linejoin="round"/>
<path d="M361,471 q-3,8 0,17" stroke="#111" stroke-width="0.9" fill="none" stroke-linecap="butt" stroke-linejoin="round"/>
<path d="M365,477 q9,3 17,-4" stroke="#111" stroke-width="0.9" fill="none" stroke-linecap="butt" stroke-linejoin="round"/>
<path d="M368,491 q6,-3 9,-9" stroke="#111" stroke-width="0.8" fill="none" stroke-linecap="butt" stroke-linejoin="round"/>
<path d="M355,459 361,457.5 367,459.5 367,467 361,468.5 355.5,466Z" fill="#fff" stroke="#111" stroke-width="1.2" stroke-linejoin="round"/>
<path d="M357,461 l8,2.5 M357,464 l8,2.5" stroke="#111" stroke-width="1.0" fill="none" stroke-linecap="butt" stroke-linejoin="round"/>
<ellipse cx="376.3" cy="464" rx="10.5" ry="4.6" transform="rotate(3 376.3 464)" fill="#fff" stroke="#111" stroke-width="1.3"/>
<path d="M366.5,456 386,456 386,463 366.5,463Z" fill="#fff" stroke="#fff" stroke-width="0.1" stroke-linejoin="round"/>
<path d="M366,460.5 q10,5 21,.5" stroke="#111" stroke-width="1.2" fill="none" stroke-linecap="butt" stroke-linejoin="round"/>
<path d="M366.3,456 v7 M386.3,456 v7" stroke="#111" stroke-width="1.2" fill="none" stroke-linecap="butt" stroke-linejoin="round"/>
<path d="M386,460.5 389,461 389,466 386,467Z" fill="#fff" stroke="#111" stroke-width="1.0" stroke-linejoin="round"/>
<path d="M368.8,442.5 q7.5,3 14.5,0" stroke="#111" stroke-width="1.2" fill="none" stroke-linecap="butt" stroke-linejoin="round"/>
<path d="M368.8,446.5 q7.5,3.5 14.5,0" stroke="#111" stroke-width="2.6" fill="none" stroke-linecap="butt" stroke-linejoin="round"/>
<path d="M371,449 v7" stroke="#111" stroke-width="1.8" fill="none" stroke-linecap="butt" stroke-linejoin="round"/>
<path d="M384,448.5 C392,450 399,460 405,471" stroke="#111" stroke-width="4.20" fill="none" stroke-linecap="butt" stroke-linejoin="round"/>
<path d="M384,448.5 C392,450 399,460 405,471" stroke="#fff" stroke-width="2.20" fill="none" stroke-linecap="butt" stroke-linejoin="round"/>
<ellipse cx="399.5" cy="477.5" rx="5.6" ry="5" transform="rotate(0 399.5 477.5)" fill="#1a1a1a" stroke="#111" stroke-width="1.0"/>
<ellipse cx="399" cy="477" rx="2.8" ry="2.6" transform="rotate(0 399 477)" fill="#fff" stroke="#111" stroke-width="0.9"/>
<path d="M397,482 407,480.5 407.5,489.5 398,491Z" fill="#1a1a1a" stroke="#111" stroke-width="1.0" stroke-linejoin="round"/>
<ellipse cx="402.5" cy="485.5" rx="2.4" ry="2.4" transform="rotate(0 402.5 485.5)" fill="#fff" stroke="#111" stroke-width="1.0"/>
<ellipse cx="402.5" cy="485.5" rx="0.9" ry="0.9" transform="rotate(0 402.5 485.5)" fill="#1a1a1a" stroke="#111" stroke-width="0.4"/>
<path d="M413.8,474 C422,471.5 433,469.5 439.4,473.5 C443,477 441,482 437,483.3 C431,484.5 423,483 416,480.8" stroke="#111" stroke-width="3.70" fill="none" stroke-linecap="butt" stroke-linejoin="round"/>
<path d="M413.8,474 C422,471.5 433,469.5 439.4,473.5 C443,477 441,482 437,483.3 C431,484.5 423,483 416,480.8" stroke="#fff" stroke-width="1.90" fill="none" stroke-linecap="butt" stroke-linejoin="round"/>
<path d="M410,472.5 l5.5,3.5" stroke="#111" stroke-width="2.6" fill="none" stroke-linecap="butt" stroke-linejoin="round"/>
<ellipse cx="412.5" cy="480.7" rx="3.2" ry="2.7" transform="rotate(0 412.5 480.7)" fill="#fff" stroke="#111" stroke-width="1.2"/>
<ellipse cx="412.5" cy="480.7" rx="1.2" ry="1.0" transform="rotate(0 412.5 480.7)" fill="#1a1a1a" stroke="#111" stroke-width="0.5"/>
<path d="M404,375.5 C412,379 419,388 423,399 C425,406 425,412 425,422" stroke="#111" stroke-width="8.05" fill="none" stroke-linecap="butt" stroke-linejoin="round"/>
<path d="M404,375.5 C412,379 419,388 423,399 C425,406 425,412 425,422" stroke="#fff" stroke-width="5.15" fill="none" stroke-linecap="butt" stroke-linejoin="round"/>
<path d="M425,419 L425,437" stroke="#111" stroke-width="11.05" fill="none" stroke-linecap="butt" stroke-linejoin="round"/>
<path d="M425,419 L425,437" stroke="#fff" stroke-width="8.15" fill="none" stroke-linecap="butt" stroke-linejoin="round"/>
<path d="M417.7,436 421,434.5 429,434.5 431.6,436.5 431.6,447.5 429,449.8 420,449.8 417.7,447.5Z" fill="#fff" stroke="#111" stroke-width="1.3" stroke-linejoin="round"/>
<path d="M424.5,438.5 V449.8 M417.7,440 h6.8" stroke="#111" stroke-width="1.0" fill="none" stroke-linecap="butt" stroke-linejoin="round"/>
<path d="M414,412 425.5,410 427,416 416,419Z" fill="#fff" stroke="#111" stroke-width="1.1" stroke-linejoin="round"/>
<ellipse cx="415.2" cy="415.4" rx="2" ry="2.6" transform="rotate(0 415.2 415.4)" fill="#fff" stroke="#111" stroke-width="1.1"/>
<path d="M418,418.5 l8,-2" stroke="#111" stroke-width="1.0" fill="none" stroke-linecap="butt" stroke-linejoin="round"/>
<path d="M372.5,306 C374,318 374.5,330 371,340 C368,346 360,346.5 349,346.7" stroke="#111" stroke-width="9.75" fill="none" stroke-linecap="butt" stroke-linejoin="round"/>
<path d="M372.5,306 C374,318 374.5,330 371,340 C368,346 360,346.5 349,346.7" stroke="#fff" stroke-width="6.85" fill="none" stroke-linecap="butt" stroke-linejoin="round"/>
<path d="M364,341 q3,5 1,10" stroke="#111" stroke-width="0.8" fill="none" stroke-linecap="butt" stroke-linejoin="round"/>
<path d="M373,291.5 C368,296.5 363,301 357,306" stroke="#111" stroke-width="11.45" fill="none" stroke-linecap="butt" stroke-linejoin="round"/>
<path d="M373,291.5 C368,296.5 363,301 357,306" stroke="#fff" stroke-width="8.55" fill="none" stroke-linecap="butt" stroke-linejoin="round"/>
<path d="M333.5,339.5 344,339.5 344,355 333.5,355Z" fill="#fff" stroke="#111" stroke-width="1.2" stroke-linejoin="round"/>
<path d="M337,339.5 v15.5 M333.5,343 h10" stroke="#111" stroke-width="0.9" fill="none" stroke-linecap="butt" stroke-linejoin="round"/>
<path d="M343,340.5 350,341 350,354 343,354Z" fill="#1a1a1a" stroke="#111" stroke-width="0.8" stroke-linejoin="round"/>
<path d="M345.2,341 v13 M347.6,341 v13" stroke="#fff" stroke-width="0.8" fill="none" stroke-linecap="butt" stroke-linejoin="round"/>
<path d="M338.5,302 L347,298 L351,296.5 L358,298 L361.5,302 L361.5,315.5 L349.5,320.7 L338.5,316.5 Z" fill="#fff" stroke="#111" stroke-width="1.4" stroke-linejoin="round"/>
<path d="M338.5,302 348.5,305.5 349,320.5 338.5,316.5Z" fill="#fff" stroke="#111" stroke-width="1.1" stroke-linejoin="round"/>
<path d="M348.5,305.5 l6,-2.5 l0,-4" stroke="#111" stroke-width="1.1" fill="none" stroke-linecap="butt" stroke-linejoin="round"/>
<path d="M343,300.2 350,297.3 353.5,298.5 353.5,302.5 348.5,305Z" fill="#fff" stroke="#111" stroke-width="1.0" stroke-linejoin="round"/>
<path d="M345.5,301 l4,1.5" stroke="#111" stroke-width="1.0" fill="none" stroke-linecap="butt" stroke-linejoin="round"/>
<path d="M350.5,306.5 360.5,303 360.5,307.5 350.5,311Z" fill="#1a1a1a" stroke="#111" stroke-width="0.6" stroke-linejoin="round"/>
<path d="M352,308.2 l7,-2.4" stroke="#fff" stroke-width="0.8" fill="none" stroke-linecap="butt" stroke-linejoin="round"/>
<path d="M351,314 l9.5,-3.3 M351,317.5 l9.5,-3.5" stroke="#111" stroke-width="1.3" fill="none" stroke-linecap="butt" stroke-linejoin="round"/>
<path d="M355,299.5 l5,2.5" stroke="#111" stroke-width="1.0" fill="none" stroke-linecap="butt" stroke-linejoin="round"/>
<path d="M347.5,321.5 v2.2" stroke="#111" stroke-width="1.3" fill="none" stroke-linecap="butt" stroke-linejoin="round"/>
<path d="M363.5,284.5 371.5,280.5 379.8,284 379.5,299 372,303.5 364,299.5Z" fill="#fff" stroke="#111" stroke-width="1.3" stroke-linejoin="round"/>
<path d="M364,291 q8,5.5 15.5,-1" stroke="#111" stroke-width="1.3" fill="none" stroke-linecap="butt" stroke-linejoin="round"/>
<path d="M364.5,286.5 q8,5 15,-.5" stroke="#111" stroke-width="1.0" fill="none" stroke-linecap="butt" stroke-linejoin="round"/>
<path d="M370,303 377,301 383,309 376,311 371,308Z" fill="#fff" stroke="#111" stroke-width="1.0" stroke-linejoin="round"/>
<ellipse cx="378" cy="307" rx="1.5" ry="2" transform="rotate(0 378 307)" fill="#1a1a1a" stroke="#111" stroke-width="0.5"/>
<path d="M379,250 C369,252 364.5,262 366,272 C367.5,281 371,287 373,292" stroke="#111" stroke-width="14.45" fill="none" stroke-linecap="butt" stroke-linejoin="round"/>
<path d="M379,250 C369,252 364.5,262 366,272 C367.5,281 371,287 373,292" stroke="#fff" stroke-width="11.55" fill="none" stroke-linecap="butt" stroke-linejoin="round"/>
<path d="M366,258 q6,1 9,8 q0,8 3,14" stroke="#111" stroke-width="0.8" fill="none" stroke-linecap="butt" stroke-linejoin="round"/>
<path d="M368.4,232 L369,245" stroke="#111" stroke-width="14.95" fill="none" stroke-linecap="butt" stroke-linejoin="round"/>
<path d="M368.4,232 L369,245" stroke="#fff" stroke-width="12.05" fill="none" stroke-linecap="butt" stroke-linejoin="round"/>
<path d="M384,247.5 399,251.5 404.5,258 408,285 388.4,285 383.5,266Z" fill="#fff" stroke="#111" stroke-width="1.2" stroke-linejoin="round"/>
<path d="M385.5,248.5 q-4,8 -1.5,18" stroke="#111" stroke-width="2.2" fill="none" stroke-linecap="butt" stroke-linejoin="round"/>
<path d="M361.5,255 371.5,241 385.5,245.5 375,263.5Z" fill="#fff" stroke="#111" stroke-width="1.2" stroke-linejoin="round"/>
<path d="M364.5,251 l13.5,8" stroke="#111" stroke-width="1.0" fill="none" stroke-linecap="butt" stroke-linejoin="round"/>
<path d="M373,246 l4,1.5 M372,249 l5,2" stroke="#111" stroke-width="1.4" fill="none" stroke-linecap="butt" stroke-linejoin="round"/>
<path d="M375,263 q8,-10 9,-15" stroke="#111" stroke-width="1.6" fill="none" stroke-linecap="butt" stroke-linejoin="round"/>
<path d="M375,256 L419,294" stroke="#333" stroke-width="0.7" fill="none" stroke-linecap="butt" stroke-linejoin="round"/>
<path d="M389,264 l4.5,2" stroke="#111" stroke-width="2.0" fill="none" stroke-linecap="butt" stroke-linejoin="round"/>
<path d="M387,270 v10 M390,272 v8" stroke="#111" stroke-width="1.0" fill="none" stroke-linecap="butt" stroke-linejoin="round"/>
<ellipse cx="402" cy="271" rx="0.9" ry="0.9" transform="rotate(0 402 271)" fill="#1a1a1a" stroke="#111" stroke-width="0.3"/>
<path d="M397.5,326 L397.7,388" stroke="#111" stroke-width="16.95" fill="none" stroke-linecap="butt" stroke-linejoin="round"/>
<path d="M397.5,326 L397.7,388" stroke="#fff" stroke-width="14.05" fill="none" stroke-linecap="butt" stroke-linejoin="round"/>
<path d="M398.2,279 L398.2,328" stroke="#111" stroke-width="20.95" fill="none" stroke-linecap="butt" stroke-linejoin="round"/>
<path d="M398.2,279 L398.2,328" stroke="#fff" stroke-width="18.05" fill="none" stroke-linecap="butt" stroke-linejoin="round"/>
<path d="M388.5,284.5 q9.7,4.5 19.4,0" stroke="#111" stroke-width="2.6" fill="none" stroke-linecap="butt" stroke-linejoin="round"/>
<path d="M390.5,287.5 405,288 405,298 390.5,298Z" fill="#1a1a1a" stroke="#111" stroke-width="0.8" stroke-linejoin="round"/>
<path d="M392.5,291 h4 M399,291 h4 M392.5,295 h4 M399,295 h4" stroke="#fff" stroke-width="1.0" fill="none" stroke-linecap="butt" stroke-linejoin="round"/>
<path d="M388.5,322 q9.7,5 19.4,0" stroke="#111" stroke-width="1.4" fill="none" stroke-linecap="butt" stroke-linejoin="round"/>
<path d="M388.5,326.5 q9.7,5 19.4,0" stroke="#111" stroke-width="2.8" fill="none" stroke-linecap="butt" stroke-linejoin="round"/>
<path d="M389.5,325 l3,2" stroke="#111" stroke-width="2.0" fill="none" stroke-linecap="butt" stroke-linejoin="round"/>
<path d="M392,343 405,343 405.5,359 392.5,359Z" fill="#1a1a1a" stroke="#111" stroke-width="0.8" stroke-linejoin="round"/>
<path d="M394,347 h4 M400,347 h4 M394,352 h4 M400,352 h4" stroke="#fff" stroke-width="1.0" fill="none" stroke-linecap="butt" stroke-linejoin="round"/>
<path d="M390,369 h15.5" stroke="#111" stroke-width="1.4" fill="none" stroke-linecap="butt" stroke-linejoin="round"/>
<path d="M390,372.5 q8,3 15.5,0" stroke="#111" stroke-width="1.0" fill="none" stroke-linecap="butt" stroke-linejoin="round"/>
<path d="M390,383.5 q8,4 15,0" stroke="#111" stroke-width="1.4" fill="none" stroke-linecap="butt" stroke-linejoin="round"/>
<path d="M390,387.5 q8,4 15,0" stroke="#111" stroke-width="3.0" fill="none" stroke-linecap="butt" stroke-linejoin="round"/>
<path d="M406,296 q6,-2 8,6" stroke="#111" stroke-width="1.1" fill="none" stroke-linecap="butt" stroke-linejoin="round"/>
<path d="M407,312 q6,-6 8,-14" stroke="#111" stroke-width="1.1" fill="none" stroke-linecap="butt" stroke-linejoin="round"/>
<path d="M410,253.3 C422,249.5 434,251 441,257 C447,262 455,268 460,273.5 C464,278 466,284 464,290.5" stroke="#111" stroke-width="9.05" fill="none" stroke-linecap="butt" stroke-linejoin="round"/>
<path d="M410,253.3 C422,249.5 434,251 441,257 C447,262 455,268 460,273.5 C464,278 466,284 464,290.5" stroke="#fff" stroke-width="6.15" fill="none" stroke-linecap="butt" stroke-linejoin="round"/>
<path d="M414,288.5 L503,325" stroke="#111" stroke-width="19.95" fill="none" stroke-linecap="butt" stroke-linejoin="round"/>
<path d="M414,288.5 L503,325" stroke="#fff" stroke-width="17.05" fill="none" stroke-linecap="butt" stroke-linejoin="round"/>
<path d="M396,249.5 406,248 408.5,262 399,264.5Z" fill="#fff" stroke="#111" stroke-width="1.2" stroke-linejoin="round"/>
<ellipse cx="400.5" cy="257" rx="2.8" ry="4.4" transform="rotate(-8 400.5 257)" fill="#1a1a1a" stroke="#111" stroke-width="0.8"/>
<ellipse cx="400.2" cy="257" rx="1.3" ry="2.4" transform="rotate(-8 400.2 257)" fill="#fff" stroke="#111" stroke-width="0.5"/>
<path d="M404.5,250 410.5,249 411.5,260.5 406,261.5Z" fill="#1a1a1a" stroke="#111" stroke-width="0.9" stroke-linejoin="round"/>
<path d="M406.5,251 l1,9 M409,250.5 l1,9" stroke="#fff" stroke-width="0.8" fill="none" stroke-linecap="butt" stroke-linejoin="round"/>
<path d="M409,262 l.5,3" stroke="#111" stroke-width="1.6" fill="none" stroke-linecap="butt" stroke-linejoin="round"/>
<path d="M428,256 438,258.5 439,271.5 429,274Z" fill="#fff" stroke="#111" stroke-width="1.1" stroke-linejoin="round"/>
<path d="M433,257 v16" stroke="#111" stroke-width="0.9" fill="none" stroke-linecap="butt" stroke-linejoin="round"/>
<path d="M433,268 437,268 437,274 433,275Z" fill="#1a1a1a" stroke="#111" stroke-width="0.6" stroke-linejoin="round"/>
<ellipse cx="423.5" cy="266.5" rx="8" ry="8.8" transform="rotate(0 423.5 266.5)" fill="#1a1a1a" stroke="#111" stroke-width="1.0"/>
<ellipse cx="422" cy="266.8" rx="5.8" ry="6.8" transform="rotate(0 422 266.8)" fill="#fff" stroke="#111" stroke-width="1.0"/>
<ellipse cx="422" cy="266.8" rx="3.6" ry="4.4" transform="rotate(0 422 266.8)" fill="#fff" stroke="#111" stroke-width="1.3"/>
<path d="M419.5,266.8 h5 M422,263.5 v6.5" stroke="#111" stroke-width="1.1" fill="none" stroke-linecap="butt" stroke-linejoin="round"/>
<path d="M419,277 431,277 433.5,297 420,297Z" fill="#1a1a1a" stroke="#111" stroke-width="1.0" stroke-linejoin="round"/>
<ellipse cx="420.5" cy="289" rx="4.6" ry="6.5" transform="rotate(0 420.5 289)" fill="#fff" stroke="#111" stroke-width="2.0"/>
<ellipse cx="420.5" cy="289" rx="1.6" ry="3.2" transform="rotate(0 420.5 289)" fill="#1a1a1a" stroke="#111" stroke-width="0.6"/>
<path d="M426,281 l5,0 M426.5,286 l5,0 M427,291 l5,0" stroke="#fff" stroke-width="1.0" fill="none" stroke-linecap="butt" stroke-linejoin="round"/>
<path d="M431,285 437,287 436.5,296 431.5,295Z" fill="#1a1a1a" stroke="#111" stroke-width="0.8" stroke-linejoin="round"/>
<path d="M456.5,296.5 q-6,11 -1,21.5" stroke="#111" stroke-width="2.4" fill="none" stroke-linecap="butt" stroke-linejoin="round"/>
<path d="M460,298 q-6,11 -1,21.5" stroke="#111" stroke-width="1.0" fill="none" stroke-linecap="butt" stroke-linejoin="round"/>
<path d="M437,289.5 q-3,8 -2,14" stroke="#111" stroke-width="0.9" fill="none" stroke-linecap="butt" stroke-linejoin="round"/>
<path d="M442,292 l6,2.4 M450,296 l4,1.6" stroke="#111" stroke-width="1.6" fill="none" stroke-linecap="butt" stroke-linejoin="round"/>
<path d="M440,300 L497,324" stroke="#777" stroke-width="0.6" fill="none" stroke-linecap="butt" stroke-linejoin="round"/>
<path d="M472,298.5 480,301 481,323 473,320.5Z" fill="#fff" stroke="#111" stroke-width="1.3" stroke-linejoin="round"/>
<path d="M474,303.5 478,304.8 478,312 474,310.8Z" fill="#1a1a1a" stroke="#111" stroke-width="0.6" stroke-linejoin="round"/>
<path d="M474,313 478,314 478,319 474,318Z" fill="#1a1a1a" stroke="#111" stroke-width="0.6" stroke-linejoin="round"/>
<path d="M478,309 485,312 484,316.5 478,314.5Z" fill="#fff" stroke="#111" stroke-width="0.9" stroke-linejoin="round"/>
<path d="M498,325 L511,328 Q520.3,330 520.3,343 L520.3,381 Q520.3,389.5 511,388.5 L501,387.5" stroke="#111" stroke-width="20.45" fill="none" stroke-linecap="butt" stroke-linejoin="round"/>
<path d="M498,325 L511,328 Q520.3,330 520.3,343 L520.3,381 Q520.3,389.5 511,388.5 L501,387.5" stroke="#fff" stroke-width="17.55" fill="none" stroke-linecap="butt" stroke-linejoin="round"/>
<ellipse cx="500.5" cy="325.3" rx="2.8" ry="10.6" transform="rotate(22 500.5 325.3)" fill="#fff" stroke="#111" stroke-width="1.2"/>
<path d="M497.5,316.5 q-4.5,9 -1,18" stroke="#111" stroke-width="1.0" fill="none" stroke-linecap="butt" stroke-linejoin="round"/>
<path d="M510.8,343.5 q9.5,5 19,0" stroke="#111" stroke-width="2.4" fill="none" stroke-linecap="butt" stroke-linejoin="round"/>
<path d="M510.8,346.8 q9.5,4 19,0" stroke="#111" stroke-width="0.9" fill="none" stroke-linecap="butt" stroke-linejoin="round"/>
<path d="M510.8,379 q9.5,5 19,0" stroke="#111" stroke-width="1.0" fill="none" stroke-linecap="butt" stroke-linejoin="round"/>
<path d="M511,333 l7,-6" stroke="#666" stroke-width="0.7" fill="none" stroke-linecap="butt" stroke-linejoin="round"/>
<path d="M513,392 l6,-8" stroke="#666" stroke-width="0.7" fill="none" stroke-linecap="butt" stroke-linejoin="round"/>
<path d="M510,362.5 514.5,362.5 514.5,369.5 510,369.5Z" fill="#1a1a1a" stroke="#111" stroke-width="0.7" stroke-linejoin="round"/>
<path d="M529.6,346 v37" stroke="#111" stroke-width="1.8" fill="none" stroke-linecap="butt" stroke-linejoin="round"/>
<path d="M499,347 511,350 511,367 499,364Z" fill="#fff" stroke="#111" stroke-width="1.1" stroke-linejoin="round"/>
<path d="M503,348 q-2,8 0,16" stroke="#111" stroke-width="0.8" fill="none" stroke-linecap="butt" stroke-linejoin="round"/>
<path d="M476,338.5 487,341.5 495,343 495,360 487,360 476,358Z" fill="#fff" stroke="#111" stroke-width="1.1" stroke-linejoin="round"/>
<ellipse cx="483.3" cy="348.6" rx="3.8" ry="8.9" transform="rotate(-6 483.3 348.6)" fill="#fff" stroke="#111" stroke-width="2.8"/>
<ellipse cx="487.6" cy="349.2" rx="3.8" ry="8.9" transform="rotate(-6 487.6 349.2)" fill="#fff" stroke="#111" stroke-width="1.8"/>
<path d="M492.5,338.5 500.5,340 500.5,360 492.5,358.5Z" fill="#fff" stroke="#111" stroke-width="1.2" stroke-linejoin="round"/>
<path d="M494.3,343 498.7,343.8 498.7,349.5 494.3,348.7Z" fill="#1a1a1a" stroke="#111" stroke-width="0.5" stroke-linejoin="round"/>
<path d="M494.3,351.5 498.7,352.3 498.7,356.5 494.3,355.7Z" fill="#1a1a1a" stroke="#111" stroke-width="0.5" stroke-linejoin="round"/>
<path d="M476,367 487,370 499,373 503,376 503,391 498,392 487,390 476,387Z" fill="#fff" stroke="#111" stroke-width="1.1" stroke-linejoin="round"/>
<ellipse cx="483.5" cy="378.6" rx="3.8" ry="9.6" transform="rotate(-6 483.5 378.6)" fill="#fff" stroke="#111" stroke-width="2.8"/>
<ellipse cx="488" cy="379.5" rx="3.8" ry="9.2" transform="rotate(-6 488 379.5)" fill="#fff" stroke="#111" stroke-width="1.8"/>
<ellipse cx="500.5" cy="383.5" rx="3.6" ry="8" transform="rotate(-6 500.5 383.5)" fill="#fff" stroke="#111" stroke-width="2.6"/>
<path d="M493,373 q-2,8 0,16" stroke="#111" stroke-width="0.8" fill="none" stroke-linecap="butt" stroke-linejoin="round"/>
<path d="M491.5,388.5 500,390 500.5,406 492,404.5Z" fill="#fff" stroke="#111" stroke-width="1.2" stroke-linejoin="round"/>
<path d="M493.3,392 498.5,393 498.7,403.5 493.5,402.5Z" fill="#1a1a1a" stroke="#111" stroke-width="0.5" stroke-linejoin="round"/>
<path d="M494.5,396 l3,.6 M494.5,399.5 l3,.6" stroke="#fff" stroke-width="0.8" fill="none" stroke-linecap="butt" stroke-linejoin="round"/>
<path d="M426,326.7 435,322.8 476,338.8 467.2,342.3Z" fill="#fff" stroke="#111" stroke-width="1.1" stroke-linejoin="round"/>
<path d="M467.2,342.3 476,338.8 476,359.5 467.2,364.8Z" fill="#fff" stroke="#111" stroke-width="1.1" stroke-linejoin="round"/>
<path d="M468.5,344.3 474.8,341.8 474.8,344.5 468.5,347Z" fill="#1a1a1a" stroke="#111" stroke-width="0.4" stroke-linejoin="round"/>
<path d="M468.5,360 474.8,357.2 474.8,359.6 468.5,362.6Z" fill="#1a1a1a" stroke="#111" stroke-width="0.4" stroke-linejoin="round"/>
<path d="M426,326.7 467.2,342.3 467.2,364.8 426,349.4Z" fill="#fff" stroke="#111" stroke-width="1.5" stroke-linejoin="round"/>
<path d="M429,331.8 465,345.4 465,361.5 429,347.6Z" fill="#fff" stroke="#111" stroke-width="0.9" stroke-linejoin="round"/>
<path d="M433.5,336.2 462,347 462,358 433.5,346.6Z" fill="#262626" stroke="#111" stroke-width="0.8" stroke-linejoin="round"/>
<path d="M436.4,337.3 v10.6" stroke="#bbb" stroke-width="0.4" fill="none" stroke-linecap="butt" stroke-linejoin="round"/>
<path d="M439.2,338.4 v10.6" stroke="#bbb" stroke-width="0.4" fill="none" stroke-linecap="butt" stroke-linejoin="round"/>
<path d="M442.1,339.4 v10.6" stroke="#bbb" stroke-width="0.4" fill="none" stroke-linecap="butt" stroke-linejoin="round"/>
<path d="M444.9,340.5 v10.6" stroke="#bbb" stroke-width="0.4" fill="none" stroke-linecap="butt" stroke-linejoin="round"/>
<path d="M447.8,341.6 v10.6" stroke="#bbb" stroke-width="0.4" fill="none" stroke-linecap="butt" stroke-linejoin="round"/>
<path d="M450.6,342.7 v10.6" stroke="#bbb" stroke-width="0.4" fill="none" stroke-linecap="butt" stroke-linejoin="round"/>
<path d="M453.4,343.8 v10.6" stroke="#bbb" stroke-width="0.4" fill="none" stroke-linecap="butt" stroke-linejoin="round"/>
<path d="M456.3,344.8 v10.6" stroke="#bbb" stroke-width="0.4" fill="none" stroke-linecap="butt" stroke-linejoin="round"/>
<path d="M459.1,345.9 v10.6" stroke="#bbb" stroke-width="0.4" fill="none" stroke-linecap="butt" stroke-linejoin="round"/>
<path d="M433.5,339.7 l28.5,10.8 M433.5,343.2 l28.5,10.8" stroke="#bbb" stroke-width="0.4" fill="none" stroke-linecap="butt" stroke-linejoin="round"/>
<path d="M430,338 l4.5,1.7 M430,341.5 l4.5,1.7" stroke="#111" stroke-width="1.3" fill="none" stroke-linecap="butt" stroke-linejoin="round"/>
<path d="M458,351 463.5,353 463.5,356 458,354Z" fill="#fff" stroke="#111" stroke-width="0.7" stroke-linejoin="round"/>
<path d="M444,326.5 448,324.2 458,326 462,331 457,333.5 447,329.8Z" fill="#fff" stroke="#111" stroke-width="0.9" stroke-linejoin="round"/>
<ellipse cx="454.5" cy="328.7" rx="1.2" ry="0.8" transform="rotate(15 454.5 328.7)" fill="#fff" stroke="#111" stroke-width="0.8"/>
<path d="M426,355.0 435,351.1 476,367.1 467.2,370.6Z" fill="#fff" stroke="#111" stroke-width="1.1" stroke-linejoin="round"/>
<path d="M467.2,370.6 476,367.1 476,387.8 467.2,393.1Z" fill="#fff" stroke="#111" stroke-width="1.1" stroke-linejoin="round"/>
<path d="M468.5,372.6 474.8,370.1 474.8,372.8 468.5,375.3Z" fill="#1a1a1a" stroke="#111" stroke-width="0.4" stroke-linejoin="round"/>
<path d="M468.5,388.3 474.8,385.5 474.8,387.90000000000003 468.5,390.90000000000003Z" fill="#1a1a1a" stroke="#111" stroke-width="0.4" stroke-linejoin="round"/>
<path d="M426,355.0 467.2,370.6 467.2,393.1 426,377.7Z" fill="#fff" stroke="#111" stroke-width="1.5" stroke-linejoin="round"/>
<path d="M429,360.1 465,373.7 465,389.8 429,375.90000000000003Z" fill="#fff" stroke="#111" stroke-width="0.9" stroke-linejoin="round"/>
<path d="M433.5,364.5 462,375.3 462,386.3 433.5,374.90000000000003Z" fill="#262626" stroke="#111" stroke-width="0.8" stroke-linejoin="round"/>
<path d="M436.4,365.6 v10.6" stroke="#bbb" stroke-width="0.4" fill="none" stroke-linecap="butt" stroke-linejoin="round"/>
<path d="M439.2,366.7 v10.6" stroke="#bbb" stroke-width="0.4" fill="none" stroke-linecap="butt" stroke-linejoin="round"/>
<path d="M442.1,367.7 v10.6" stroke="#bbb" stroke-width="0.4" fill="none" stroke-linecap="butt" stroke-linejoin="round"/>
<path d="M444.9,368.8 v10.6" stroke="#bbb" stroke-width="0.4" fill="none" stroke-linecap="butt" stroke-linejoin="round"/>
<path d="M447.8,369.9 v10.6" stroke="#bbb" stroke-width="0.4" fill="none" stroke-linecap="butt" stroke-linejoin="round"/>
<path d="M450.6,371.0 v10.6" stroke="#bbb" stroke-width="0.4" fill="none" stroke-linecap="butt" stroke-linejoin="round"/>
<path d="M453.4,372.1 v10.6" stroke="#bbb" stroke-width="0.4" fill="none" stroke-linecap="butt" stroke-linejoin="round"/>
<path d="M456.3,373.1 v10.6" stroke="#bbb" stroke-width="0.4" fill="none" stroke-linecap="butt" stroke-linejoin="round"/>
<path d="M459.1,374.2 v10.6" stroke="#bbb" stroke-width="0.4" fill="none" stroke-linecap="butt" stroke-linejoin="round"/>
<path d="M433.5,368.0 l28.5,10.8 M433.5,371.5 l28.5,10.8" stroke="#bbb" stroke-width="0.4" fill="none" stroke-linecap="butt" stroke-linejoin="round"/>
<path d="M430,366.3 l4.5,1.7 M430,369.8 l4.5,1.7" stroke="#111" stroke-width="1.3" fill="none" stroke-linecap="butt" stroke-linejoin="round"/>
<path d="M458,379.3 463.5,381.3 463.5,384.3 458,382.3Z" fill="#fff" stroke="#111" stroke-width="0.7" stroke-linejoin="round"/>
<path d="M446,356.5 q4,3 9,1.5" stroke="#111" stroke-width="1.0" fill="none" stroke-linecap="butt" stroke-linejoin="round"/>
<path d="M476,340 481,341.5 481,358 476,357Z" fill="#fff" stroke="#111" stroke-width="0.9" stroke-linejoin="round"/>
<path d="M476,369 481,370.5 481,387 476,386Z" fill="#fff" stroke="#111" stroke-width="0.9" stroke-linejoin="round"/>
<path d="M326,560 C325,571 320,578 312,584 C305,589 298,592 290,596.5 L240,625.5" stroke="#111" stroke-width="8.05" fill="none" stroke-linecap="butt" stroke-linejoin="round"/>
<path d="M326,560 C325,571 320,578 312,584 C305,589 298,592 290,596.5 L240,625.5" stroke="#fff" stroke-width="5.15" fill="none" stroke-linecap="butt" stroke-linejoin="round"/>
<path d="M307.5,543.5 321.3,536.5 321.3,546.5 308,552.5Z" fill="#1a1a1a" stroke="#111" stroke-width="1.2" stroke-linejoin="round"/>
<path d="M310.5,545.5 l8,-4 v3 l-8,4 z" stroke="#fff" stroke-width="0.9" fill="none" stroke-linecap="butt" stroke-linejoin="round"/>
<ellipse cx="328.5" cy="545.5" rx="8.6" ry="3.8" transform="rotate(-5 328.5 545.5)" fill="#fff" stroke="#111" stroke-width="1.2"/>
<path d="M319.5,538 337.5,537 337.5,544.5 319.5,545.5Z" fill="#fff" stroke="#fff" stroke-width="0.1" stroke-linejoin="round"/>
<path d="M320,542.5 q8,5 17,1.5" stroke="#111" stroke-width="1.2" fill="none" stroke-linecap="butt" stroke-linejoin="round"/>
<path d="M320,540 v5 M337,539 v6" stroke="#111" stroke-width="1.1" fill="none" stroke-linecap="butt" stroke-linejoin="round"/>
<path d="M332.5,542.5 337.5,541.5 337.5,549 332.5,549.5Z" fill="#fff" stroke="#111" stroke-width="1.1" stroke-linejoin="round"/>
<path d="M317.5,551 L322,549.5 L333.5,549 L334,562 L329,565.5 L321,563.5 L316,558 Z" fill="#1a1a1a" stroke="#111" stroke-width="1" stroke-linejoin="round"/>
<path d="M322,553 l8,-1 M327,556 v6" stroke="#fff" stroke-width="1.2" fill="none" stroke-linecap="butt" stroke-linejoin="round"/>
<path d="M321.5,557 l3,5" stroke="#fff" stroke-width="1.0" fill="none" stroke-linecap="butt" stroke-linejoin="round"/>
<path d="M320,558.3 L310,561.7 L304.5,565" stroke="#111" stroke-width="6.50" fill="none" stroke-linecap="butt" stroke-linejoin="round"/>
<path d="M320,558.3 L310,561.7 L304.5,565" stroke="#fff" stroke-width="4.30" fill="none" stroke-linecap="butt" stroke-linejoin="round"/>
<path d="M306.5,562.5 l2.5,5.5 M309,561 l2.5,5.5 M304.5,564.5 l2,4.5" stroke="#111" stroke-width="1.5" fill="none" stroke-linecap="butt" stroke-linejoin="round"/>
<ellipse cx="301.3" cy="573.5" rx="5.6" ry="6" transform="rotate(0 301.3 573.5)" fill="#fff" stroke="#111" stroke-width="2.2"/>
<ellipse cx="302.5" cy="574.5" rx="1.8" ry="2.6" transform="rotate(0 302.5 574.5)" fill="#fff" stroke="#111" stroke-width="1.0"/>
<path d="M298.5,571 q2,-1.5 4,-.5" stroke="#111" stroke-width="0.9" fill="none" stroke-linecap="butt" stroke-linejoin="round"/>
<path d="M304.5,578.5 l2.5,-2" stroke="#fff" stroke-width="2.0" fill="none" stroke-linecap="butt" stroke-linejoin="round"/>
<path d="M262,611 268,609 271,614 270,620 265,619Z" fill="#fff" stroke="#111" stroke-width="1.0" stroke-linejoin="round"/>
<path d="M271.5,652 L271.5,636 C272,627 280,623.5 291,623 C305,622.5 319,626.5 332.5,629.8" stroke="#111" stroke-width="5.60" fill="none" stroke-linecap="round" stroke-linejoin="round"/>
<path d="M271.5,652 L271.5,636 C272,627 280,623.5 291,623 C305,622.5 319,626.5 332.5,629.8" stroke="#fff" stroke-width="3.20" fill="none" stroke-linecap="round" stroke-linejoin="round"/>
<path d="M292.5,627.5 C299,628.5 304,631 307.5,634.5" stroke="#111" stroke-width="4.70" fill="none" stroke-linecap="round" stroke-linejoin="round"/>
<path d="M292.5,627.5 C299,628.5 304,631 307.5,634.5" stroke="#fff" stroke-width="2.50" fill="none" stroke-linecap="round" stroke-linejoin="round"/>
<path d="M293,627 299,628.5 298,631 292.5,629.5Z" fill="#1a1a1a" stroke="#111" stroke-width="0.6" stroke-linejoin="round"/>
<path d="M316.8,619.2 322.5,619.2 323,623.5 317,623.5Z" fill="#1a1a1a" stroke="#111" stroke-width="0.9" stroke-linejoin="round"/>
<path d="M315.5,623.8 h9" stroke="#111" stroke-width="1.2" fill="none" stroke-linecap="butt" stroke-linejoin="round"/>
<path d="M225.5,603.5 L202.5,587.5 C197,583.5 191,581.5 186.5,582.2 C182.5,583 180.5,585.5 178,589 L172.8,597.3 C170.8,600.5 171,608 173.3,615.6 C175.5,624 181,634 188.5,641.5 C191,644 194,645 198,645" stroke="#111" stroke-width="5.50" fill="none" stroke-linecap="butt" stroke-linejoin="round"/>
<path d="M225.5,603.5 L202.5,587.5 C197,583.5 191,581.5 186.5,582.2 C182.5,583 180.5,585.5 178,589 L172.8,597.3 C170.8,600.5 171,608 173.3,615.6 C175.5,624 181,634 188.5,641.5 C191,644 194,645 198,645" stroke="#fff" stroke-width="3.30" fill="none" stroke-linecap="butt" stroke-linejoin="round"/>
<path d="M223,614 L223,605.8 C223.3,600.8 228.6,600.8 230,606 L236.7,636 C239,648 243,655 251.5,659.3 C257,661 265,661 269.5,655 C272.5,650 272,640 272.3,634" stroke="#111" stroke-width="5.30" fill="none" stroke-linecap="butt" stroke-linejoin="round"/>
<path d="M223,614 L223,605.8 C223.3,600.8 228.6,600.8 230,606 L236.7,636 C239,648 243,655 251.5,659.3 C257,661 265,661 269.5,655 C272.5,650 272,640 272.3,634" stroke="#fff" stroke-width="3.10" fill="none" stroke-linecap="butt" stroke-linejoin="round"/>
<path d="M272.3,633 C271.5,640 271,646 270.3,652" stroke="#111" stroke-width="7.80" fill="none" stroke-linecap="butt" stroke-linejoin="round"/>
<path d="M272.3,633 C271.5,640 271,646 270.3,652" stroke="#fff" stroke-width="5.40" fill="none" stroke-linecap="butt" stroke-linejoin="round"/>
<path d="M267.5,642.5 l6.5,.6" stroke="#111" stroke-width="1.0" fill="none" stroke-linecap="butt" stroke-linejoin="round"/>
<path d="M221,606.5 225,606 225.5,615 222,616Z" fill="#fff" stroke="#111" stroke-width="0.9" stroke-linejoin="round"/>
<path d="M222,610 l3,-.5" stroke="#111" stroke-width="0.8" fill="none" stroke-linecap="butt" stroke-linejoin="round"/>
<path d="M170.8,597 l6.5,3" stroke="#111" stroke-width="1.0" fill="none" stroke-linecap="butt" stroke-linejoin="round"/>
<path d="M172,594.8 l6.5,3" stroke="#111" stroke-width="1.0" fill="none" stroke-linecap="butt" stroke-linejoin="round"/>
<ellipse cx="181.8" cy="595.3" rx="1.8" ry="3.4" transform="rotate(35 181.8 595.3)" fill="#fff" stroke="#111" stroke-width="1.1"/>
<ellipse cx="181.8" cy="595.3" rx="0.6" ry="1.6" transform="rotate(35 181.8 595.3)" fill="#1a1a1a" stroke="#111" stroke-width="0.3"/>
<path d="M234.5,645 240,642.5 250.5,641.5 251.5,653.5 243,655 236.5,656Z" fill="#fff" stroke="#111" stroke-width="1.2" stroke-linejoin="round"/>
<path d="M234.5,645 239.5,643.5 241.5,654.5 236.5,656Z" fill="#1a1a1a" stroke="#111" stroke-width="0.8" stroke-linejoin="round"/>
<path d="M243.5,645.5 249,644.5 249.8,651 244.3,652Z" fill="#1a1a1a" stroke="#111" stroke-width="0.6" stroke-linejoin="round"/>
<ellipse cx="246.7" cy="648.2" rx="1.3" ry="1.6" transform="rotate(0 246.7 648.2)" fill="#fff" stroke="#111" stroke-width="0.6"/>
<path d="M208,622 L214,616.5 L222,615 L228,617.5 L230,624 L231.5,634 L229,639 L222,640.5 L215,643 L206,646 L198,648 L194.5,644 L197,638 L203,630 Z" fill="#fff" stroke="#111" stroke-width="1.2" stroke-linejoin="round"/>
<path d="M210.5,621 217,617 225,617.5 226,624 219,627.5 212,627Z" fill="#fff" stroke="#111" stroke-width="1.1" stroke-linejoin="round"/>
<ellipse cx="218.5" cy="621.5" rx="3.4" ry="2.2" transform="rotate(-15 218.5 621.5)" fill="#1a1a1a" stroke="#111" stroke-width="0.8"/>
<ellipse cx="218.8" cy="621.3" rx="1.6" ry="0.9" transform="rotate(-15 218.8 621.3)" fill="#fff" stroke="#111" stroke-width="0.4"/>
<path d="M203,631 212,627.5 225,625.5 226,631 214,634 206,637Z" fill="#1a1a1a" stroke="#111" stroke-width="0.8" stroke-linejoin="round"/>
<path d="M206,633 l17,-4.5" stroke="#fff" stroke-width="0.9" fill="none" stroke-linecap="butt" stroke-linejoin="round"/>
<path d="M197,638 206,635 213,636 214,642 206,646 198,648 194.5,644Z" fill="#1a1a1a" stroke="#111" stroke-width="0.8" stroke-linejoin="round"/>
<ellipse cx="203" cy="643" rx="1.7" ry="1.7" transform="rotate(0 203 643)" fill="#fff" stroke="#111" stroke-width="0.7"/>
<ellipse cx="209.5" cy="640" rx="1.5" ry="1.5" transform="rotate(0 209.5 640)" fill="#fff" stroke="#111" stroke-width="0.7"/>
<path d="M197.5,641.5 l4,-2" stroke="#fff" stroke-width="0.9" fill="none" stroke-linecap="butt" stroke-linejoin="round"/>
<path d="M224,628 230.5,626.5 231.5,636 225.5,638Z" fill="#fff" stroke="#111" stroke-width="1.0" stroke-linejoin="round"/>
<path d="M226,630 l4,-1 M226.5,634 l4,-1" stroke="#111" stroke-width="0.9" fill="none" stroke-linecap="butt" stroke-linejoin="round"/>
<ellipse cx="220" cy="638" rx="2.2" ry="2.4" transform="rotate(0 220 638)" fill="#fff" stroke="#111" stroke-width="1.0"/>
<path d="M226.5,615 229.5,616.5 230,622 227,621Z" fill="#1a1a1a" stroke="#111" stroke-width="0.6" stroke-linejoin="round"/>
<line x1="265.7" y1="30.8" x2="246" y2="50.5" class="ld"/>
<line x1="188.3" y1="85" x2="206.7" y2="76.3" class="ld"/>
<line x1="254.7" y1="115.6" x2="247.3" y2="96" class="ld"/>
<line x1="235" y1="123" x2="222.7" y2="110.7" class="ld"/>
<line x1="430.3" y1="66" x2="417.9" y2="54.2" class="ld"/>
<line x1="396.4" y1="99.6" x2="379" y2="114.3" class="ld"/>
<line x1="397.6" y1="140" x2="382.9" y2="124" class="ld"/>
<line x1="163.8" y1="201.5" x2="179.7" y2="217.5" class="ld"/>
<line x1="154.4" y1="210" x2="176" y2="228.5" class="ld"/>
<line x1="126.9" y1="220" x2="151.5" y2="224.8" class="ld"/>
<line x1="140.7" y1="299.3" x2="154.3" y2="312.9" class="ld"/>
<line x1="188.7" y1="288.3" x2="203.4" y2="274.8" class="ld"/>
<line x1="250" y1="316.6" x2="233" y2="331.3" class="ld"/>
<line x1="215.7" y1="381.7" x2="230.5" y2="368.2" class="ld"/>
<line x1="266.4" y1="359.3" x2="281" y2="373.4" class="ld"/>
<line x1="334.3" y1="285.3" x2="346.8" y2="300" class="ld"/>
<line x1="323.8" y1="325" x2="336.4" y2="339.7" class="ld"/>
<line x1="393.4" y1="239.7" x2="400" y2="250.7" class="ld"/>
<line x1="411" y1="241" x2="422.2" y2="258" class="ld"/>
<line x1="423.5" y1="313.4" x2="433.4" y2="322.5" class="ld"/>
<line x1="448" y1="408.7" x2="460.3" y2="396.4" class="ld"/>
<line x1="444.3" y1="456.6" x2="432" y2="444.3" class="ld"/>
<line x1="420.5" y1="500.8" x2="405.7" y2="488.5" class="ld"/>
<line x1="280.7" y1="555.3" x2="294.3" y2="568.9" class="ld"/>
<line x1="199" y1="611.7" x2="210" y2="622.7" class="ld"/>
<line x1="337.3" y1="604.5" x2="322.5" y2="619.3" class="ld"/>
<line x1="288" y1="641.4" x2="296.7" y2="632.8" class="ld"/>
<g opacity="0.99">
<text transform="translate(270.6,31.3) scale(1.03,1)">10</text>
<text transform="translate(181,91.3) scale(1.03,1)">16</text>
<text transform="translate(259.6,125.8) scale(1.03,1)">12</text>
<text transform="translate(437,74.8) scale(1.03,1)">24</text>
<text transform="translate(403.3,98.8) scale(1.03,1)">27</text>
<text transform="translate(404.3,149.3) scale(1.03,1)">25</text>
<text transform="translate(158.4,201.3) scale(1.03,1)">14</text>
<text transform="translate(147.8,210.3) scale(1.03,1)">18</text>
<text transform="translate(119.5,222.8) scale(1.03,1)">17</text>
<text transform="translate(136.5,301.3) scale(1.03,1)">7</text>
<text transform="translate(183,297.3) scale(1.03,1)">26</text>
<text transform="translate(253.3,315.8) scale(1.03,1)">8</text>
<text transform="translate(209.6,391.3) scale(1.03,1)">22</text>
<text transform="translate(261,358.6) scale(1.03,1)">15</text>
<text transform="translate(329.5,283.8) scale(1.03,1)">1</text>
<text transform="translate(317.6,324.1) scale(1.03,1)">11</text>
<text transform="translate(391,239.3) scale(1.03,1)">9</text>
<text transform="translate(407,240.8) scale(1.03,1)">6</text>
<text transform="translate(420.5,312.3) scale(1.03,1)">3</text>
<text transform="translate(444.3,418.5) scale(1.03,1)">2</text>
<text transform="translate(450.5,466.3) scale(1.03,1)">23</text>
<text transform="translate(426,510.3) scale(1.03,1)">13</text>
<text transform="translate(278.3,555.8) scale(1.03,1)">4</text>
<text transform="translate(196.7,611.0) scale(1.03,1)">5</text>
<text transform="translate(344.7,604.5) scale(1.03,1)">20</text>
<text transform="translate(283,651.3) scale(1.03,1)">19</text>
</g>
<circle cx="243.6" cy="130.9" r="9.3" fill="#c1cee2" stroke="#e5121e" stroke-width="3"/>
<g opacity="0.99"><text transform="translate(243.5,134.8) scale(1.03,1)" style="fill:#56647f">21</text></g>
</svg>
</body></html>
